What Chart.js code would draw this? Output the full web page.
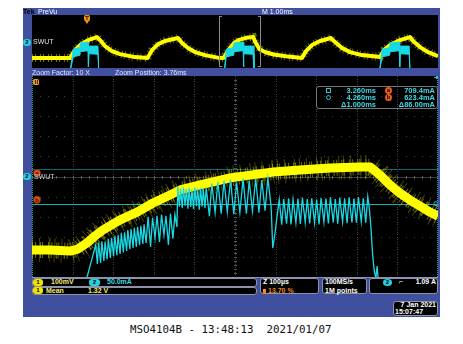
<!DOCTYPE html>
<html><head><meta charset="utf-8">
<script src="https://cdn.jsdelivr.net/npm/chart.js@4.4.1/dist/chart.umd.min.js"></script>
<style>
html,body{margin:0;padding:0;background:#fff;}
body{position:relative;width:463px;height:344px;overflow:hidden;}
#frame{position:absolute;left:23px;top:8px;width:417px;height:309px;background:#414f9f;}
canvas{position:absolute;display:block;background:#000;}
#prev{left:32px;top:15px;}
#main{left:32px;top:76px;}
#botline{position:absolute;left:32px;top:277px;width:406px;height:1px;background:#8a92b8;}
.t{position:absolute;font-family:"Liberation Sans",Arial,sans-serif;font-size:7px;line-height:8px;white-space:nowrap;color:#fff;}
.b{font-weight:bold;}
.r{text-align:right;}
.cy{color:#3cdbe6;font-weight:bold;font-size:7.5px;}
.box{position:absolute;box-sizing:border-box;border:1px solid #8e93a8;border-radius:3px;background:#000;}
.badge{position:absolute;box-sizing:border-box;border-radius:4px;font-family:"Liberation Sans",Arial,sans-serif;font-weight:bold;font-size:6px;line-height:7px;text-align:center;color:#000;}
#footer{position:absolute;left:130px;top:323px;font-family:"DejaVu Sans Mono",monospace;font-size:10.8px;color:#111;white-space:pre;}
</style></head><body>
<div id="frame"></div>
<canvas id="prev" width="406" height="53"></canvas>
<canvas id="main" width="406" height="201"></canvas>
<div id="botline"></div>

<div class="t b" style="left:23px;top:7.5px;color:#000">Tek</div>
<div class="t" style="left:38px;top:7.5px">PreVu</div>
<div class="t" style="left:262px;top:7.5px">M 1.00ms</div>
<div class="t" style="left:32px;top:68.5px;color:#e4e6f0">Zoom Factor: 10 X</div>
<div class="t" style="left:115px;top:68.5px;color:#e4e6f0">Zoom Position: 3.76ms</div>

<div class="badge" style="left:23px;top:39px;width:8px;height:7px;background:#22d3e0;">2</div>
<div class="t" style="left:33px;top:38px;color:#e0e0e0">SWUT</div>
<div class="badge" style="left:23px;top:173px;width:8px;height:7px;background:#22d3e0;">2</div>
<div class="t" style="left:34px;top:172.5px;color:#d0d0d0">SWUT</div>

<!-- cursor readout -->
<div class="box" style="left:316px;top:86px;width:122px;height:23px;border-color:#777;background:transparent"></div>
<div style="position:absolute;left:326px;top:88px;width:3px;height:3px;border:1px solid #2fc7d3"></div>
<div style="position:absolute;left:326px;top:95px;width:3px;height:3px;border:1px solid #2fc7d3;border-radius:50%"></div>
<div class="t cy r" style="left:330px;width:46px;top:86.5px">3.260ms</div>
<div class="t cy r" style="left:330px;width:46px;top:93.5px">4.260ms</div>
<div class="t cy r" style="left:330px;width:46px;top:100.5px">Δ1.000ms</div>
<div class="badge" style="left:385px;top:87px;width:7px;height:7px;border-radius:50%;background:#ef5a1c;font-size:5.5px;line-height:6.5px">a</div>
<div class="badge" style="left:385px;top:94px;width:7px;height:7px;border-radius:50%;background:#ef5a1c;font-size:5.5px;line-height:6.5px">b</div>
<div class="t cy r" style="left:390px;width:45px;top:86.5px">709.4mA</div>
<div class="t cy r" style="left:390px;width:45px;top:93.5px">623.4mA</div>
<div class="t cy r" style="left:390px;width:45px;top:100.5px">Δ86.00mA</div>

<!-- bottom readouts -->
<div class="box" style="left:32px;top:278px;width:225px;height:8.5px"></div>
<div class="box" style="left:32px;top:286.5px;width:225px;height:8px"></div>
<div class="badge" style="left:33px;top:279px;width:10px;height:6.5px;border-radius:3px;background:#f2e600;line-height:6.5px">1</div>
<div class="t b" style="left:51px;top:278.3px;color:#f4ec7a">100mV</div>
<div class="badge" style="left:89px;top:279px;width:11px;height:6.5px;border-radius:3px;background:#22d3e0;line-height:6.5px">2</div>
<div class="t b" style="left:107px;top:278.3px;color:#3cdbe6">50.0mA</div>
<div class="badge" style="left:33px;top:287.3px;width:10px;height:6.5px;border-radius:3px;background:#f2e600;line-height:6.5px">1</div>
<div class="t b" style="left:46px;top:286.7px;color:#f4ec7a">Mean</div>
<div class="t b" style="left:88px;top:286.7px;color:#f4ec7a">1.32 V</div>

<div class="box" style="left:260px;top:278px;width:59px;height:16px"></div>
<div class="t b" style="left:263px;top:278.3px">Z 100µs</div>
<div style="position:absolute;left:263px;top:288.5px;width:3px;height:5px;background:#f08a1a"></div>
<div class="t b" style="left:268px;top:286.7px;color:#f08a1a">13.70 %</div>

<div class="box" style="left:322px;top:278px;width:45px;height:16px"></div>
<div class="t b" style="left:325px;top:278.3px">100MS/s</div>
<div class="t b" style="left:325px;top:286.7px">1M points</div>

<div class="box" style="left:369px;top:278px;width:69px;height:16px"></div>
<div class="badge" style="left:383px;top:279px;width:9px;height:6.5px;border-radius:50%;background:#22d3e0;line-height:6.5px">2</div>
<div class="t b" style="left:399px;top:278.3px">⌐</div>
<div class="t b r" style="left:396px;width:40px;top:278.3px">1.09 A</div>

<div class="box" style="left:393px;top:301px;width:45px;height:15px"></div>
<div class="t b r" style="left:396px;width:40px;top:301px">7 Jan 2021</div>
<div class="t b" style="left:395px;top:307.5px">15:07:47</div>

<div id="footer">MSO4104B - 13:48:13  2021/01/07</div>

<script>
// ===== Zoomed (main) window: time in µs after trigger, amplitude in divisions =====
const mainXRange = [3260, 4260];
const mainYRange = [-5, 5];
const gridXTicks = [3260, 3360, 3460, 3560, 3660, 3760, 3860, 3960, 4060, 4160, 4260];
const gridYTicks = [-5, -4, -3, -2, -1, 0, 1, 2, 3, 4, 5];

// CH1 (yellow, 100 mV/div) – centre of the noisy band
const ch1T = [3260, 3304, 3354, 3373, 3395, 3415, 3435, 3477, 3519, 3558, 3600, 3625, 3674, 3748, 3797, 3854, 3920, 3994, 4068, 4093, 4117, 4142, 4166, 4191, 4216, 4240, 4260];
const ch1V = [-3.66, -3.66, -3.71, -3.61, -3.31, -2.96, -2.66, -2.16, -1.77, -1.32, -0.92, -0.67, -0.42, -0.07, 0.07, 0.22, 0.32, 0.42, 0.47, 0.47, 0.07, -0.42, -0.82, -1.17, -1.47, -1.77, -1.97];

// CH2 (cyan, 50 mA/div) – switching ripple, peaks and troughs
const ch2T = [3260, 3390, 3393, 3405, 3417,
  3421, 3424, 3429, 3432, 3437, 3440, 3445, 3448, 3453, 3456, 3461, 3464, 3469, 3472, 3477, 3480, 3485, 3488, 3493, 3496, 3501, 3504, 3509, 3512, 3517, 3520, 3525, 3528, 3533, 3536,
  3541, 3546, 3552, 3557, 3563, 3568, 3574, 3579, 3585, 3590, 3596, 3601, 3607, 3612, 3617,
  3619, 3623, 3626, 3630, 3633, 3637, 3640, 3644, 3647, 3651, 3654, 3658, 3661, 3665, 3668, 3672, 3675, 3679, 3682, 3686, 3689,
  3697, 3703, 3711, 3718, 3726, 3733, 3741, 3749, 3757, 3764, 3772, 3780, 3788, 3795, 3803, 3811, 3819, 3826, 3834, 3841, 3849,
  3853, 3858, 3864,
  3869, 3875, 3880, 3887, 3892, 3898, 3903, 3910, 3915, 3921, 3926, 3933, 3938, 3944, 3949, 3956, 3961, 3967, 3972, 3979, 3984, 3990, 3995, 4002, 4007, 4013, 4018, 4025, 4030, 4036, 4041, 4048, 4053, 4059, 4064, 4071, 4076, 4082, 4087,
  4091, 4095, 4099, 4103, 4107, 4110, 4113, 4116, 4260];
const ch2V = [-6, -6, -5.2, -4.3, -3.4,
  -4.35, -3.30, -4.30, -3.22, -4.20, -3.25, -4.12, -3.10, -4.05, -3.05, -3.98, -2.95, -3.92, -2.92, -3.85, -2.80, -3.78, -2.78, -3.70, -2.66, -3.62, -2.62, -3.55, -2.55, -3.50, -2.50, -3.42, -2.45, -3.35, -2.38,
  -3.30, -2.00, -3.50, -2.05, -3.06, -1.95, -3.26, -1.90, -2.91, -1.95, -3.41, -1.85, -3.10, -1.90, -2.51,
  -0.50, -1.50, -0.60, -1.58, -0.55, -1.45, -0.62, -1.60, -0.58, -1.52, -0.65, -1.62, -0.55, -1.48, -0.60, -1.65, -0.57, -1.50, -0.62, -1.58, -0.55,
  -1.98, -0.35, -1.80, -0.25, -1.85, -0.20, -1.75, -0.15, -1.88, -0.30, -1.78, -0.12, -1.85, -0.22, -1.72, -0.10, -1.80, -0.18, -1.70, -0.08, -1.50,
  -3.56, -2.90, -1.90,
  -1.15, -2.40, -1.12, -2.35, -1.08, -2.38, -1.15, -2.30, -1.10, -2.36, -1.05, -2.28, -1.12, -2.34, -1.08, -2.30, -1.15, -2.38, -1.06, -2.27, -1.10, -2.33, -1.04, -2.29, -1.12, -2.35, -1.05, -2.26, -1.09, -2.32, -1.03, -2.28, -1.10, -2.30, -1.02, -2.25, -1.08, -2.30, -1.00,
  -1.60, -2.60, -3.90, -4.70, -5.05, -4.45, -5.20, -6, -6];

const cursorT = [3260, 4260];          // vertical cursors (3.260 ms, 4.260 ms)
const cursorLevels = [0.37, -1.35];    // a: 709.4 mA, b: 623.4 mA

// ===== Preview (whole record): time in µs after trigger, amplitude in divisions =====
const prevXRange = [-1355, 8645];
const prevYRange = [-5.6, 4.8];
const zoomWindow = [3260, 4260];
const triggerT = 0;

const pCh1T = [-1355, -420, -296, -172, 25, 246, 320, 443, 616, 813, 1182, 1490, 1601, 1749, 1921, 2241, 2340, 2488, 2660, 2906, 3276, 3373, 3415, 3477, 3558, 3625, 3748, 3920, 4093, 4142, 4191, 4260, 4400, 4600, 4900, 5296, 5394, 5542, 5739, 6010, 6108, 6281, 6478, 6773, 7217, 7315, 7463, 7709, 7956, 8030, 8202, 8399, 8645];
const pCh1V = [-3.66, -3.66, -2.09, -1.10, -0.12, 0.47, -0.12, -1.30, -2.28, -2.87, -3.46, -3.66, -2.09, -0.91, -0.31, 0.28, -0.71, -1.69, -2.48, -3.07, -3.66, -3.61, -2.96, -2.16, -1.32, -0.67, -0.07, 0.32, 0.47, -0.42, -1.17, -1.97, -2.50, -2.95, -3.30, -3.62, -2.28, -1.10, -0.31, 0.28, -0.51, -1.69, -2.48, -3.07, -3.46, -2.09, -1.10, -0.12, 0.47, -0.31, -1.50, -2.48, -3.27];

const pCh2T  = [-1355, -420, -340, -175, -165, 25, 35, 50, 270, 290, 3380, 3430, 3612, 3622, 3845, 3855, 3866, 4090, 4112, 7200, 7270, 7455, 7465, 7690, 7703, 7718, 7935, 7956, 8645];
const pCh2Hi = [-6.5, -6.5, -1.9, -1.6, -0.7, -0.5, -2.6, -1.3, -1.3, -6.5, -6.5, -1.9, -1.6, -0.7, -0.5, -2.6, -1.3, -1.3, -6.5, -6.5, -1.9, -1.6, -0.7, -0.5, -2.6, -1.3, -1.3, -6.5, -6.5];
const pCh2Lo = [-6.5, -6.5, -3.4, -3.1, -2.4, -2.2, -5.4, -2.8, -2.9, -6.5, -6.5, -3.4, -3.1, -2.4, -2.2, -5.4, -2.8, -2.9, -6.5, -6.5, -3.4, -3.1, -2.4, -2.2, -5.4, -2.8, -2.9, -6.5, -6.5];

const YEL = '#ffff00', CYA = '#1ad8e4';
const zip = (xs, ys) => xs.map((v, i) => ({x: v, y: ys[i]}));

function roundRect(ctx, x, y, w, h, r) {
  ctx.beginPath();
  ctx.moveTo(x + r, y); ctx.lineTo(x + w - r, y); ctx.quadraticCurveTo(x + w, y, x + w, y + r);
  ctx.lineTo(x + w, y + h - r); ctx.quadraticCurveTo(x + w, y + h, x + w - r, y + h);
  ctx.lineTo(x + r, y + h); ctx.quadraticCurveTo(x, y + h, x, y + h - r);
  ctx.lineTo(x, y + r); ctx.quadraticCurveTo(x, y, x + r, y); ctx.closePath();
}

const mainDecor = {
  id: 'mainDecor',
  beforeDatasetsDraw(chart) {
    const {ctx, chartArea: a, scales: {x, y}} = chart;
    const X = v => x.getPixelForValue(v), Y = v => y.getPixelForValue(v);
    ctx.save();
    ctx.fillStyle = '#434343';
    gridYTicks.slice(1, -1).forEach(g => {
      const py = Math.round(Y(g));
      for (let t = mainXRange[0]; t <= mainXRange[1]; t += 20) ctx.fillRect(Math.round(X(t)), py, 1, 1);
    });
    gridXTicks.slice(1, -1).forEach(g => {
      const px = Math.round(X(g));
      for (let v = mainYRange[0]; v <= mainYRange[1]; v += 0.125) ctx.fillRect(px, Math.round(Y(v)), 1, 1);
    });
    ctx.fillStyle = '#575757';
    const cx = Math.round(X(gridXTicks[5])), cy = Math.round(Y(0));
    for (let v = mainYRange[0]; v <= mainYRange[1]; v += 0.2) ctx.fillRect(cx - 1, Math.round(Y(v)), 3, 1);
    for (let t = mainXRange[0]; t <= mainXRange[1]; t += 20) ctx.fillRect(Math.round(X(t)), cy - 1, 1, 3);
    ctx.fillStyle = 'rgba(120,120,100,0.5)';
    ctx.fillRect(a.left, cy, a.right - a.left, 1);
    ctx.fillStyle = '#0d6a72';
    ctx.fillRect(a.left, Math.round(Y(cursorLevels[0])), a.right - a.left, 1);
    ctx.fillStyle = '#17b2bd';
    ctx.fillRect(a.left, Math.round(Y(cursorLevels[1])), a.right - a.left, 1);
    ctx.fillStyle = '#1aa8b4';
    cursorT.forEach(t => {
      const px = Math.min(Math.max(Math.round(X(t)), a.left), a.right - 1);
      for (let py = a.top; py < a.bottom; py += 2) ctx.fillRect(px, py, 1, 1);
    });
    ctx.restore();
  },
  afterDatasetsDraw(chart) {
    const {ctx, chartArea: a, scales: {y}} = chart;
    const Y = v => y.getPixelForValue(v);
    ctx.save();
    const circ = (cx, cy, txt) => {
      ctx.beginPath(); ctx.arc(cx, cy, 3.6, 0, Math.PI * 2);
      ctx.fillStyle = '#e8501c'; ctx.fill();
      ctx.strokeStyle = '#7a2a08'; ctx.lineWidth = 0.8; ctx.stroke();
      ctx.fillStyle = '#2a0a00'; ctx.font = 'bold 6px "Liberation Sans"';
      ctx.textAlign = 'center'; ctx.textBaseline = 'middle'; ctx.fillText(txt, cx, cy + 0.3);
    };
    circ(a.left + 5, Y(cursorLevels[0]) + 4, 'a');
    circ(a.left + 5, Y(cursorLevels[1]) - 4, 'b');
    ctx.fillStyle = '#f0900f';
    roundRect(ctx, a.left + 1, a.top + 3, 6, 6, 1.5); ctx.fill();
    ctx.fillStyle = '#5a3000'; ctx.fillRect(a.left + 3, a.top + 4, 1, 4); ctx.fillRect(a.left + 5, a.top + 4, 1, 4);
    ctx.strokeStyle = '#2cc8d4'; ctx.lineWidth = 1;
    ctx.beginPath(); ctx.arc(a.right - 2, Y(cursorLevels[1]), 2, 0, Math.PI * 2); ctx.stroke();
    ctx.fillStyle = '#2cc8d4';
    ctx.fillRect(a.right - 4, a.top + 1, 4, 1); ctx.fillRect(a.right - 2, a.top, 1, 3);
    ctx.restore();
  }
};

const prevDecor = {
  id: 'prevDecor',
  afterDatasetsDraw(chart) {
    const {ctx, chartArea: a, scales: {x}} = chart;
    ctx.save();
    ctx.fillStyle = '#8c8c8c';
    const l = Math.round(x.getPixelForValue(zoomWindow[0])), r = Math.round(x.getPixelForValue(zoomWindow[1]));
    ctx.fillRect(l, a.top + 1, 1, a.bottom - a.top - 2);
    ctx.fillRect(l, a.top + 1, 3, 1); ctx.fillRect(l, a.bottom - 2, 3, 1);
    ctx.fillRect(r, a.top + 1, 1, a.bottom - a.top - 2);
    ctx.fillRect(r - 2, a.top + 1, 3, 1); ctx.fillRect(r - 2, a.bottom - 2, 3, 1);
    const tx = x.getPixelForValue(triggerT);
    ctx.fillStyle = '#f0900f';
    roundRect(ctx, tx - 3, a.top, 6, 6, 1.5); ctx.fill();
    ctx.beginPath(); ctx.moveTo(tx - 2, a.top + 6); ctx.lineTo(tx + 2, a.top + 6); ctx.lineTo(tx, a.top + 9); ctx.closePath(); ctx.fill();
    ctx.fillStyle = '#5a3000';
    ctx.fillRect(tx - 2, a.top + 1, 4, 1); ctx.fillRect(tx - 0.5, a.top + 1, 1, 4);
    ctx.restore();
  }
};

const commonOpts = (xr, yr) => ({
  responsive: false, animation: false, devicePixelRatio: 1,
  layout: {padding: 0},
  elements: {line: {tension: 0}, point: {radius: 0}},
  scales: {
    x: {type: 'linear', min: xr[0], max: xr[1], display: false},
    y: {type: 'linear', min: yr[0], max: yr[1], display: false}
  },
  plugins: {legend: {display: false}, tooltip: {enabled: false}}
});

new Chart(document.getElementById('main'), {
  type: 'line',
  data: {datasets: [
    {label: 'CH2', data: zip(ch2T, ch2V), borderColor: CYA, borderWidth: 1.3, pointRadius: 0, order: 0, fill: false},
    {label: 'CH1', data: zip(ch1T, ch1V), borderColor: YEL, borderWidth: 9, pointRadius: 0, order: 1, fill: false, borderJoinStyle: 'round'},
    {label: 'CH1 noise', data: zip(ch1T, ch1V), borderColor: 'rgba(200,200,0,0.55)', borderWidth: 16, borderDash: [1, 2, 1, 4, 1, 1, 1, 5], pointRadius: 0, order: 2, fill: false},
    {label: 'CH1 noise2', data: zip(ch1T, ch1V), borderColor: 'rgba(150,150,0,0.45)', borderWidth: 24, borderDash: [1, 6, 1, 9, 1, 4], pointRadius: 0, order: 3, fill: false}
  ]},
  options: commonOpts(mainXRange, mainYRange),
  plugins: [mainDecor]
});

new Chart(document.getElementById('prev'), {
  type: 'line',
  data: {datasets: [
    {label: 'CH2 hi', data: zip(pCh2T, pCh2Hi), borderColor: CYA, backgroundColor: CYA, borderWidth: 1, pointRadius: 0, order: 0, fill: '+1'},
    {label: 'CH2 lo', data: zip(pCh2T, pCh2Lo), borderColor: CYA, borderWidth: 1, pointRadius: 0, order: 0, fill: false},
    {label: 'CH1', data: zip(pCh1T, pCh1V), borderColor: YEL, borderWidth: 4, pointRadius: 0, order: 1, fill: false, borderJoinStyle: 'round'},
    {label: 'CH1 noise', data: zip(pCh1T, pCh1V), borderColor: 'rgba(200,200,0,0.55)', borderWidth: 8, borderDash: [1, 2, 1, 4], pointRadius: 0, order: 2, fill: false}
  ]},
  options: commonOpts(prevXRange, prevYRange),
  plugins: [prevDecor]
});
</script>
</body></html>
